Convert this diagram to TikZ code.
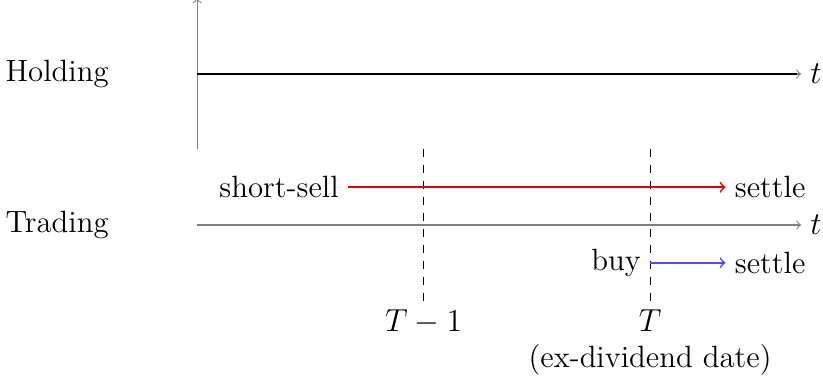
\documentclass[tikz,border=0pt]{standalone}
\usetikzlibrary{arrows}
\begin{document}
\begin{tikzpicture}[
  font=\fontsize{11.6}{14}\selectfont,
  axisline/.style={->, gray},
  holdline/.style={thick, black},
  dashmark/.style={dashed},
]
\useasboundingbox (-2.61,-4.07) rectangle (8.29,0.98);
% vertical axis
\coordinate (vb) at (0,-1);
\coordinate (vt) at (0,1.0);
\draw[axisline] (vb) -- (vt);
% holding
\coordinate (h0) at (0,0);
\coordinate (h1) at (7.94,0);
\node[anchor=west] (hold) at (-2.66,0) {Holding};
\node[anchor=west] (ht) at (8,0) {$t$};
\draw[axisline] (h0) -- (ht.west);
\draw[holdline] (h0) -- (h1);
% trading
\coordinate (t0) at (0,-2);
\node[anchor=west] (trade) at (-2.66,-2) {Trading};
\node[anchor=west] (tt) at (8,-2) {$t$};
\draw[axisline] (t0) -- (tt.west);
% dashed markers
\coordinate (d1t) at (3,-1);
\node[anchor=north] (tm1) at (3,-3) {$T-1$};
\draw[dashmark] (d1t) -- (tm1.north);
\coordinate (d2t) at (6,-1);
\node[anchor=north] (tT) at (6,-3) {$T$};
\draw[dashmark] (d2t) -- (tT.north);
\node[anchor=north, inner sep=0pt] (exd) at ([yshift=-1pt]tT.south) {(ex-dividend date)};
% short-sell
\node[anchor=east] (ss) at (2,-1.5) {short-sell};
\node[anchor=west] (s1) at (7,-1.5) {settle};
\draw[->, line width=0.6pt, red!90!black] (ss.east) -- (s1.west);
% buy
\node[anchor=east] (buy) at (6,-2.5) {buy};
\node[anchor=west] (s2) at (7,-2.5) {settle};
\draw[->, semithick, blue!70] (buy.east) -- (s2.west);
\end{tikzpicture}
\end{document}
